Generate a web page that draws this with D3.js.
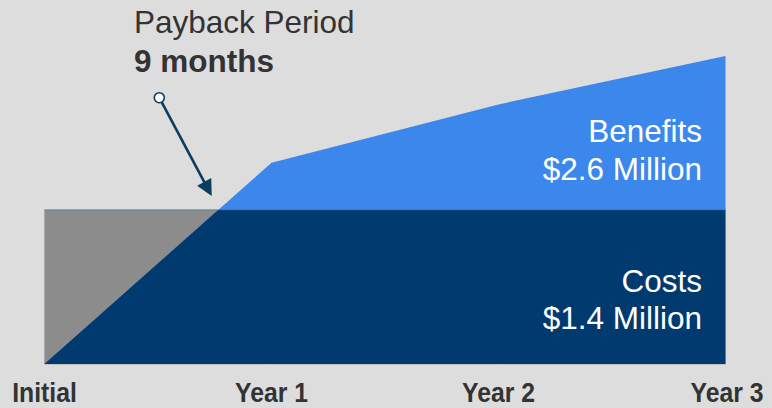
<!DOCTYPE html>
<html>
<head>
<meta charset="utf-8">
<script src="https://cdn.jsdelivr.net/npm/d3@7"></script>
<style>
  html, body { margin: 0; padding: 0; background: #dddddd; }
  svg { display: block; }
  text { font-family: "Liberation Sans", Arial, sans-serif; }
</style>
</head>
<body>
<svg id="chart" width="772" height="408"></svg>
<script>
// ---- Data ----
const categories = ["Initial", "Year 1", "Year 2", "Year 3"];
const benefits   = [0, 1.83, 2.36, 2.80];   // cumulative benefits ($M)
const costs      = [1.4, 1.4, 1.4, 1.4];    // total costs ($M)
const benefitLabel = ["Benefits", "$2.6 Million"];
const costLabel    = ["Costs", "$1.4 Million"];
const paybackLabel = ["Payback Period", "9 months"];

// ---- Layout ----
const W = 772, H = 408;
const svg = d3.select("#chart");
svg.append("rect").attr("width", W).attr("height", H).attr("fill", "#dddddd");

const x = d3.scalePoint().domain(categories).range([44.5, 725.5]);
const y = d3.scaleLinear().domain([0, 2.8]).range([364, 56]);

const COL_GRAY = "#8c8c8c", COL_NAVY = "#003a6f", COL_BLUE = "#3c87eb", COL_TEXT = "#333333";

const rows = categories.map((c, i) => ({ c, b: benefits[i], k: costs[i] }));

// Costs area (gray)
const costArea = d3.area().x(d => x(d.c)).y0(y(0)).y1(d => y(d.k));
svg.append("path").datum(rows).attr("d", costArea)
  .attr("fill", COL_GRAY).attr("stroke", "#a8a8a8").attr("stroke-width", 1);

// Benefits area (light blue)
const benArea = d3.area().x(d => x(d.c)).y0(y(0)).y1(d => y(d.b));
svg.append("path").datum(rows).attr("d", benArea).attr("fill", COL_BLUE);

// Benefits covered by costs (navy) – benefits area clipped to the cost region
const defs = svg.append("defs");
defs.append("clipPath").attr("id", "costClip")
  .append("path").datum(rows).attr("d", costArea);
svg.append("path").datum(rows).attr("d", benArea)
  .attr("fill", COL_NAVY).attr("clip-path", "url(#costClip)");

// Cost line edge
svg.append("line")
  .attr("x1", x(categories[0])).attr("x2", x(categories[categories.length - 1]))
  .attr("y1", y(costs[0])).attr("y2", y(costs[0]))
  .attr("stroke", "#2c5d8c").attr("stroke-width", 1).attr("opacity", 0.6);

// ---- Series labels ----
const labelX = 702;
[[benefitLabel, [142, 180]], [costLabel, [292, 329]]].forEach(([lines, ys]) => {
  lines.forEach((t, i) => {
    svg.append("text").attr("x", labelX).attr("y", ys[i])
      .attr("text-anchor", "end").attr("fill", "#ffffff")
      .attr("font-size", "31.5px").text(t);
  });
});

// ---- Category labels ----
categories.forEach(c => {
  svg.append("text")
    .attr("transform", `translate(${x(c) + (c === "Year 3" ? 1.5 : 0)},401.5) scale(0.9,1)`)
    .attr("text-anchor", "middle").attr("fill", COL_TEXT)
    .attr("font-size", "27.5px").attr("font-weight", "bold").text(c);
});

// ---- Payback annotation ----
svg.append("text").attr("x", 134).attr("y", 33).attr("fill", COL_TEXT)
  .attr("font-size", "31.5px").text(paybackLabel[0]);
svg.append("text").attr("x", 134).attr("y", 72).attr("fill", COL_TEXT)
  .attr("font-size", "31.5px").attr("font-weight", "bold").text(paybackLabel[1]);

// arrow
const ARROW = "#0a3d5f";
const p0 = [159.3, 97.7], tip = [211.7, 196];
const dx = tip[0] - p0[0], dy = tip[1] - p0[1], L = Math.hypot(dx, dy);
const ux = dx / L, uy = dy / L, px = -uy, py = ux;
const headLen = 16, headHalf = 8;
const bx = tip[0] - ux * headLen, by = tip[1] - uy * headLen;
svg.append("line")
  .attr("x1", p0[0]).attr("y1", p0[1]).attr("x2", bx + ux * 2).attr("y2", by + uy * 2)
  .attr("stroke", ARROW).attr("stroke-width", 2.6);
svg.append("path")
  .attr("d", `M${tip[0]},${tip[1]} L${bx + px * headHalf},${by + py * headHalf} L${bx - px * headHalf},${by - py * headHalf} Z`)
  .attr("fill", ARROW);
svg.append("circle").attr("cx", p0[0]).attr("cy", p0[1]).attr("r", 5)
  .attr("fill", "#ffffff").attr("stroke", ARROW).attr("stroke-width", 1.6);
</script>
</body>
</html>
